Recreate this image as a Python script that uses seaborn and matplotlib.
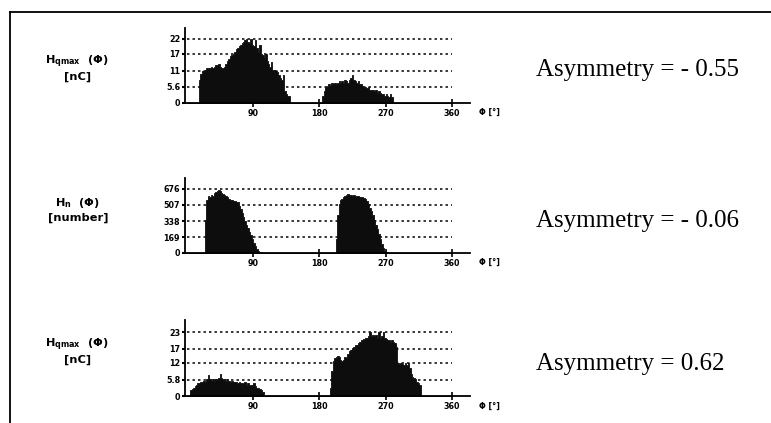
import numpy as np
import pandas as pd
import matplotlib
matplotlib.use("Agg")
import matplotlib.pyplot as plt
import seaborn as sns
from matplotlib.lines import Line2D

# ---------------- data (2-degree phase bins) ----------------
BIN = 2
X_TICKS = [90, 180, 270, 360]

# Panel 1: H_qmax(phi) [nC], asymmetry -0.55
P1_A_START = 16
P1_A = [8, 10, 11, 11, 11.5, 12, 12, 12, 12.5, 12, 12.5, 13, 13, 13.5, 12.5, 12,
        12, 12.5, 13.5, 14.5, 15, 16, 16.5, 17, 17.5, 18.5, 19, 19.5, 20, 20.5,
        21, 21.5, 22, 21, 20.5, 22, 20, 19.5, 21.5, 19, 17.5, 20, 17, 16.5, 15.5,
        17, 14.5, 13.5, 12.5, 14, 11.5, 11.5, 11, 10.5, 9.5, 8.5, 8, 9.5, 4, 3,
        2.5, 2.5]
P1_B_START = 184
P1_B = [2.5, 4, 5.5, 6, 6.5, 6, 7, 6.5, 7, 6.5, 7, 7.5, 7, 7.5, 7, 8, 7.5, 7,
        8, 8.5, 9.5, 8, 7.5, 7, 7.5, 6.5, 6.5, 6, 5.5, 5.5, 5, 5.5, 4.5, 4.5,
        4.5, 4, 4.5, 3.5, 4, 3.5, 3, 3, 2.5, 3, 2.5, 2, 3, 2]
P1_YTICKS = [0, 5.6, 11, 17, 22]
P1_YLABELS = ["0", "5.6", "11", "17", "22"]

# Panel 2: H_n(phi) [number], asymmetry -0.06
P2_A_START = 24
P2_A = [350, 560, 600, 590, 610, 600, 630, 640, 660, 670, 650, 630, 620, 610,
        600, 590, 575, 565, 560, 550, 545, 540, 535, 500, 460, 420, 380, 340,
        300, 260, 220, 185, 150, 110, 75, 40, 20, 10, 6, 4]
P2_B_START = 202
P2_B = [150, 400, 520, 560, 575, 590, 600, 610, 620, 615, 610, 605, 610, 600,
        605, 600, 595, 595, 590, 585, 570, 545, 520, 480, 440, 400, 350, 300,
        250, 200, 150, 100, 55, 25, 12, 8, 5, 3, 2]
P2_YTICKS = [0, 169, 338, 507, 676]
P2_YLABELS = ["0", "169", "338", "507", "676"]

# Panel 3: H_qmax(phi) [nC], asymmetry 0.62
P3_A_START = 4
P3_A = [2, 2.5, 3, 3.5, 4, 4.5, 4.5, 5, 5, 5.5, 5, 6, 7.5, 6, 5.5, 6, 5.5, 6,
        6, 6.5, 8, 6.5, 6, 6, 5.5, 6, 5.5, 5, 5.5, 5, 5, 5, 4.5, 5, 4.5, 4.5,
        4.5, 5, 4, 4.5, 4, 4, 4, 4.5, 3.5, 3, 3, 2.5, 2, 1.5]
P3_B_START = 194
P3_B = [3, 9, 12.5, 13.5, 14, 14.5, 14, 13, 12.5, 13, 14, 13.5, 15, 16, 16.5,
        17, 17.5, 18.5, 18.5, 19, 19.5, 20, 20, 20.5, 21, 21, 21.5, 23, 21.5,
        22, 21.5, 22, 21, 23, 21, 21.5, 23, 21, 20.5, 20, 20, 19.5, 20, 19.5,
        19, 17.5, 12, 11.5, 12, 11.5, 11, 12, 11, 12, 10, 8, 7, 6.5, 6, 5, 4.5, 4]
P3_YTICKS = [0, 5.8, 12, 17, 23]
P3_YLABELS = ["0", "5.8", "12", "17", "23"]

ASYM = ["Asymmetry = - 0.55", "Asymmetry = - 0.06", "Asymmetry = 0.62"]
LEFT_LABELS = [(r"H$_{\mathbf{qmax}}$  (Φ)", "[nC]"),
               (r"H$_{\mathbf{n}}$  (Φ)", "[number]"),
               (r"H$_{\mathbf{qmax}}$  (Φ)", "[nC]")]

# ---------------- figure ----------------
W, H = 771, 423
fig = plt.figure(figsize=(W / 100, H / 100), dpi=100)
fig.patch.set_facecolor("white")
plt.rcParams["mathtext.fontset"] = "dejavusans"


def frac(px_left, px_top, px_w, px_h):
    return [px_left / W, 1 - (px_top + px_h) / H, px_w / W, px_h / H]


panels = [
    dict(a=(P1_A_START, P1_A), b=(P1_B_START, P1_B), yt=P1_YTICKS, yl=P1_YLABELS,
         zero=103, top=28, gv=22),
    dict(a=(P2_A_START, P2_A), b=(P2_B_START, P2_B), yt=P2_YTICKS, yl=P2_YLABELS,
         zero=253, top=178, gv=676),
    dict(a=(P3_A_START, P3_A), b=(P3_B_START, P3_B), yt=P3_YTICKS, yl=P3_YLABELS,
         zero=396, top=320, gv=23),
]
top_grid_px = [39, 189, 332]
text_base = [76, 227, 370]
label_y = [(62, 77), (203, 218), (345, 360)]

edges = np.arange(0, 362, BIN)
for i, p in enumerate(panels):
    h_px = p["zero"] - p["top"]
    ax = fig.add_axes(frac(185, p["top"], 285, h_px))
    phases, weights = [], []
    for start, vals in (p["a"], p["b"]):
        for k, v in enumerate(vals):
            phases.append(start + BIN * k + BIN / 2)
            weights.append(v)
    df = pd.DataFrame({"phase": phases, "w": weights})
    px_per_unit = (p["zero"] - top_grid_px[i]) / p["gv"]
    ymax = h_px / px_per_unit
    ax.hlines(p["yt"][1:], 0, 360, colors="black", linestyles=(0, (1.6, 2.0)),
              linewidth=1.1, zorder=1)
    sns.histplot(data=df, x="phase", weights="w", bins=list(edges),
                 element="step", fill=True, color="#0d0d0d", alpha=1,
                 linewidth=0.6, edgecolor="#0d0d0d", ax=ax, zorder=2)
    ax.set_xlim(-3, 385)
    ax.set_ylim(0, ymax)
    ax.set_xlabel("")
    ax.set_ylabel("")
    ax.set_facecolor("none")
    for s in ("top", "right"):
        ax.spines[s].set_visible(False)
    for s in ("left", "bottom"):
        ax.spines[s].set_linewidth(1.3)
        ax.spines[s].set_color("black")
        ax.spines[s].set_zorder(3)
    ax.set_xticks(X_TICKS)
    ax.set_xticklabels([str(t) for t in X_TICKS], fontsize=5.8, fontweight="bold")
    ax.set_yticks(p["yt"])
    ax.set_yticklabels(p["yl"], fontsize=5.8, fontweight="bold")
    ax.tick_params(axis="x", direction="inout", length=6, width=1.2, pad=1)
    ax.tick_params(axis="y", direction="out", length=2.5, width=1.5, pad=1)
    ax.text(1.03, -0.13, "Φ [°]", transform=ax.transAxes, fontsize=5.8,
            fontweight="bold", ha="left", va="center")

    l1, l2 = LEFT_LABELS[i]
    fig.text(77 / W, 1 - label_y[i][0] / H, l1, fontsize=8.2, fontweight="bold",
             ha="center", va="center")
    fig.text(78 / W, 1 - label_y[i][1] / H, l2, fontsize=8.2, fontweight="bold",
             ha="center", va="center")
    fig.text(536 / W, 1 - text_base[i] / H, ASYM[i], fontsize=18,
             family="Liberation Serif", ha="left", va="baseline")

# scan frame (left and top edges)
fig.add_artist(Line2D([10 / W, 10 / W], [0, 1 - 12 / H], transform=fig.transFigure,
                      color="black", linewidth=1.3))
fig.add_artist(Line2D([10 / W, 1], [1 - 12 / H, 1 - 12 / H], transform=fig.transFigure,
                      color="black", linewidth=1.3))

fig.savefig("out.png", dpi=100, facecolor="white")
